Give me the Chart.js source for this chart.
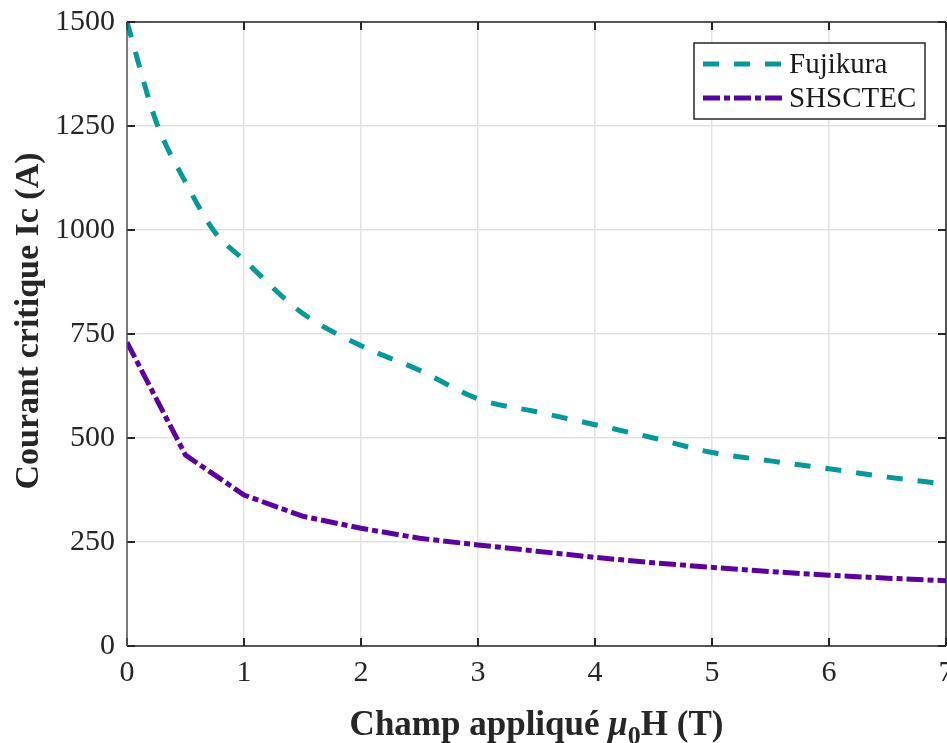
<!DOCTYPE html>
<html>
<head>
<meta charset="utf-8">
<script src="https://cdn.jsdelivr.net/npm/chart.js@4.4.1/dist/chart.umd.min.js"></script>
<style>
  html, body { margin: 0; padding: 0; background: #fff; }
  canvas { display: block; }
</style>
</head>
<body>
<canvas id="icChart" width="947" height="743"></canvas>
<script>
// applied field (T) and critical current (A)
const fieldFujikura = [0, 0.25, 0.5, 0.75, 1, 1.5, 2, 2.5, 3, 3.5, 4, 4.5, 5, 5.5, 6, 6.5, 7];
const icFujikura    = [1500, 1260, 1115, 995, 928, 800, 722, 663, 594, 563, 532, 500, 465, 445, 426, 406, 389];

const fieldShsctec = [0, 0.5, 1, 1.5, 2, 2.5, 3, 3.5, 4, 4.5, 5, 5.5, 6, 6.5, 7];
const icShsctec    = [730, 459, 363, 312, 283, 259, 243, 228, 213, 200, 189, 179, 170, 163, 157];

const seriesNames = ['Fujikura', 'SHSCTEC'];
const xTicks = [0, 1, 2, 3, 4, 5, 6, 7];
const yTicks = [0, 250, 500, 750, 1000, 1250, 1500];

const SERIF = '"Liberation Serif", "Times New Roman", serif';

function toPoints(xs, ys) {
    return xs.map((x, i) => ({x: x, y: ys[i]}));
}

/*
 * box around the axes, inward tick marks, titles and the legend
 */
const matlabAxes = {
    id: 'matlabAxes',
    afterDraw(chart) {
        const {ctx, chartArea: {top, right, bottom, left}} = chart;
        const xs = chart.scales.x, ys = chart.scales.y;
        ctx.save();

        // ticks pointing inwards
        ctx.strokeStyle = '#262626';
        ctx.lineWidth = 2;
        ctx.beginPath();
        xTicks.forEach(v => {
            const px = Math.round(xs.getPixelForValue(v));
            ctx.moveTo(px, bottom); ctx.lineTo(px, bottom - 8);
            ctx.moveTo(px, top); ctx.lineTo(px, top + 8);
        });
        yTicks.forEach(v => {
            const py = Math.round(ys.getPixelForValue(v));
            ctx.moveTo(left, py); ctx.lineTo(left + 8, py);
            ctx.moveTo(right, py); ctx.lineTo(right - 8, py);
        });
        ctx.stroke();

        // box
        ctx.lineWidth = 1.5;
        ctx.strokeStyle = '#262626';
        ctx.beginPath();
        ctx.moveTo(left, top); ctx.lineTo(right, top);
        ctx.moveTo(right, top); ctx.lineTo(right, bottom);
        ctx.moveTo(left, bottom); ctx.lineTo(right, bottom);
        ctx.stroke();
        ctx.strokeStyle = '#555';
        ctx.beginPath();
        ctx.moveTo(left, top); ctx.lineTo(left, bottom);
        ctx.stroke();

        // y title
        ctx.fillStyle = '#262626';
        ctx.font = 'bold 34px ' + SERIF;
        ctx.textAlign = 'center';
        ctx.textBaseline = 'alphabetic';
        ctx.save();
        ctx.translate(38, (top + bottom) / 2 - 13);
        ctx.rotate(-Math.PI / 2);
        ctx.fillText('Courant critique Ic (A)', 0, 0);
        ctx.restore();

        // x title with mu_0
        const parts = [
            {t: 'Champ appliqué ', f: 'bold 35px ' + SERIF, dy: 0},
            {t: 'μ', f: 'italic bold 35px ' + SERIF, dy: 0},
            {t: '0', f: 'bold 26px ' + SERIF, dy: 9},
            {t: 'H (T)', f: 'bold 35px ' + SERIF, dy: 0}
        ];
        let total = 0;
        parts.forEach(p => { ctx.font = p.f; p.w = ctx.measureText(p.t).width; total += p.w; });
        let x = (left + right) / 2 - total / 2;
        const base = 735;
        ctx.textAlign = 'left';
        parts.forEach(p => {
            ctx.font = p.f;
            ctx.fillText(p.t, x, base + p.dy);
            x += p.w;
        });

        // legend
        const lx = 694, ly = 43, lw = 231, lh = 76;
        ctx.fillStyle = '#fff';
        ctx.fillRect(lx, ly, lw, lh);
        ctx.lineWidth = 1.5;
        ctx.strokeStyle = '#262626';
        ctx.strokeRect(lx, ly, lw, lh);
        const rows = [64, 98];
        chart.data.datasets.forEach((ds, i) => {
            ctx.save();
            ctx.strokeStyle = ds.borderColor;
            ctx.lineWidth = ds.borderWidth;
            ctx.setLineDash(ds.borderDash);
            ctx.beginPath();
            ctx.moveTo(703, rows[i]);
            ctx.lineTo(783, rows[i]);
            ctx.stroke();
            ctx.restore();
            ctx.fillStyle = '#1a1a1a';
            ctx.font = '29px ' + SERIF;
            ctx.textAlign = 'left';
            ctx.textBaseline = 'middle';
            ctx.fillText(ds.label, 789, rows[i] + 1);
        });

        ctx.restore();
    }
};

const ctx = document.getElementById('icChart').getContext('2d');
const icChart = new Chart(ctx, {
    type: 'line',
    plugins: [matlabAxes],
    data: {
        datasets: [
            {
                label: seriesNames[0],
                data: toPoints(fieldFujikura, icFujikura),
                borderColor: '#009a9a',
                borderWidth: 5,
                borderDash: [16, 15],
                pointRadius: 0,
                cubicInterpolationMode: 'monotone',
                fill: false
            },
            {
                label: seriesNames[1],
                data: toPoints(fieldShsctec, icShsctec),
                borderColor: '#5c00a3',
                borderWidth: 5,
                borderDash: [17, 4, 6, 4],
                pointRadius: 0,
                tension: 0,
                fill: false
            }
        ]
    },
    options: {
        responsive: false,
        animation: false,
        layout: {
            padding: {top: 22, right: 1, left: 0, bottom: 0}
        },
        plugins: {
            legend: {display: false},
            tooltip: {enabled: false}
        },
        scales: {
            x: {
                type: 'linear',
                min: 0,
                max: 7,
                afterBuildTicks(scale) {
                    scale.ticks = xTicks.map(v => ({value: v}));
                },
                afterFit(scale) {
                    scale.height = 97;
                    scale.paddingLeft = 0;
                    scale.paddingRight = 0;
                },
                grid: {color: '#e3e3e3', lineWidth: 1.5, drawTicks: false},
                border: {display: false},
                ticks: {
                    color: '#262626',
                    font: {family: SERIF, size: 30},
                    padding: 9,
                    maxRotation: 0,
                    callback: v => String(v)
                }
            },
            y: {
                min: 0,
                max: 1500,
                afterBuildTicks(scale) {
                    scale.ticks = yTicks.map(v => ({value: v}));
                },
                afterFit(scale) {
                    scale.width = 127;
                    scale.paddingTop = 0;
                    scale.paddingBottom = 0;
                },
                grid: {color: '#e3e3e3', lineWidth: 1.5, drawTicks: false},
                border: {display: false},
                ticks: {
                    color: '#262626',
                    font: {family: SERIF, size: 30},
                    padding: 12,
                    callback: v => String(v)
                }
            }
        }
    }
});
</script>
</body>
</html>
